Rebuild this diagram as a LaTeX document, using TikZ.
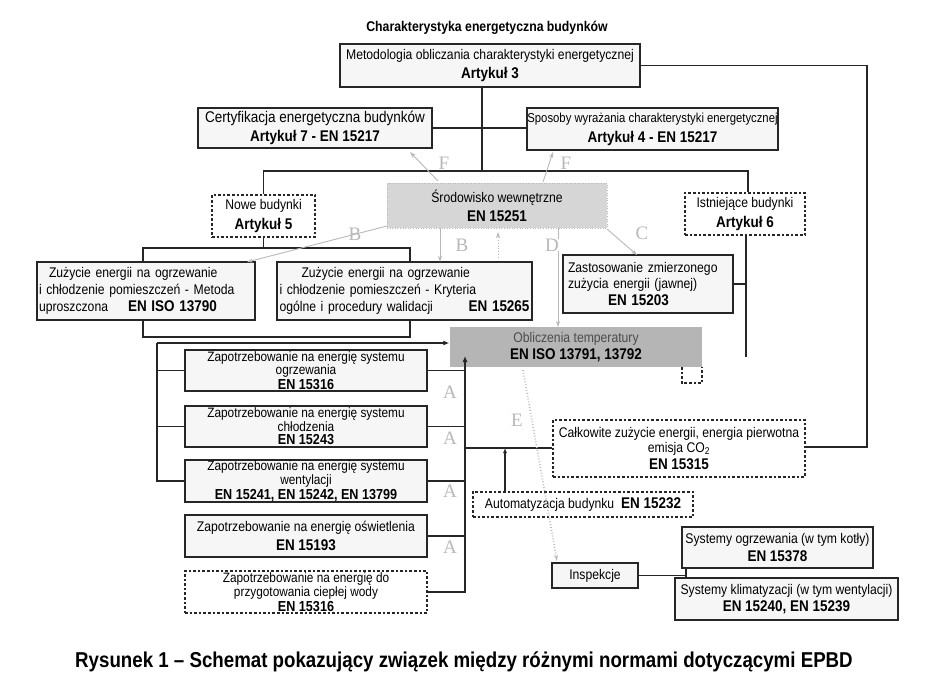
\documentclass[tikz,border=0pt]{standalone}
\usepackage{fontspec}
\setmainfont{Liberation Sans}[FakeStretch=0.87]
\newfontfamily\labfont{Liberation Serif}
\usetikzlibrary{arrows.meta}
\newcommand\nf{\fontsize{14}{13}\selectfont}
\newcommand\bfc{\fontsize{15.5}{15}\selectfont\bfseries}
\newcommand\bfz{\fontsize{14.5}{14}\selectfont\bfseries}
\begin{document}
\begin{tikzpicture}[x=1pt,y=-1pt,
 box/.style={draw=black!85, line width=1.4pt, fill=gray!7, inner sep=0pt, align=center, font=\nf},
 dbox/.style={box, fill=white, dash pattern=on 2.6pt off 2pt, line width=1.3pt},
 zbox/.style={box, font=\fontsize{13.6}{12.6}\selectfont},
 ln/.style={draw=black!85, line width=1.1pt},
 garr/.style={draw=gray!55, line width=0.9pt, -{Stealth[length=6pt,width=4pt]}},
 glab/.style={text=gray!55, font=\labfont\fontsize{19}{19}\selectfont, inner sep=0pt},
]
\useasboundingbox (0,0) rectangle (945,695);
\fill[white] (0,0) rectangle (945,695);

\node[font=\fontsize{14.1}{16}\selectfont\bfseries] (title) at (487,28) {Charakterystyka energetyczna budynków};

\node[box, minimum width=300, minimum height=43] (met) at (490,65.5)
  {Metodologia obliczania charakterystyki energetycznej\\[4pt]{\bfc Artykuł 3}};
\node[box, minimum width=234, minimum height=40, font=\fontsize{15.5}{14}\selectfont] (cert) at (315,128)
  {Certyfikacja energetyczna budynków\\[3pt]{\bfc Artykuł 7 - EN 15217}};
\node[box, minimum width=251, minimum height=42, font=\fontsize{13}{13}\selectfont] (spos) at (652.5,129)
  {Sposoby wyrażania charakterystyki energetycznej\\[5pt]{\bfc Artykuł 4 - EN 15217}};
\node[dbox, minimum width=103, minimum height=42] (nowe) at (263.5,216)
  {Nowe budynki\\[4pt]{\bfc Artykuł 5}};
\node[box, draw=gray!55, line width=0.6pt, dotted, fill=gray!32, minimum width=220, minimum height=45] (srod) at (497,205.5)
  {Środowisko wewnętrzne\\[4pt]{\bfc EN 15251}};
\node[dbox, minimum width=120, minimum height=42] (ist) at (745,214)
  {Istniejące budynki\\[4pt]{\bfc Artykuł 6}};

\node[box, minimum width=218, minimum height=58, align=left, text width=214] (zuz1) at (146,291)
  {\hspace*{10pt}Zużycie energii na ogrzewanie\\[2.5pt]i chłodzenie pomieszczeń - Metoda\\[2.5pt]uproszczona\hspace{20pt}{\bfc EN ISO 13790}};
\node[box, minimum width=255, minimum height=58, align=left, text width=250] (zuz2) at (404.5,291)
  {\hspace*{22pt}Zużycie energii na ogrzewanie\\[2.5pt]i chłodzenie pomieszczeń - Kryteria\\[2.5pt]ogólne i procedury walidacji\hfill{\bfc EN 15265}};
\node[box, minimum width=170, minimum height=58, align=left, text width=160] (zast) at (648,284)
  {Zastosowanie zmierzonego\\[1.5pt]zużycia energii (jawnej)\\[2pt]\hspace*{40pt}{\bfc EN 15203}};

\node[box, draw=none, fill=gray!58, minimum width=252, minimum height=40] (obl) at (576,347)
  {\textcolor{black!70}{Obliczenia temperatury}\\[3pt]{\bfc EN ISO 13791, 13792}};

\node[zbox, minimum width=242, minimum height=41] (zap1) at (306,370.5)
  {Zapotrzebowanie na energię systemu\\ogrzewania\\[1pt]{\bfz EN 15316}};
\node[zbox, minimum width=242, minimum height=41] (zap2) at (306,426.5)
  {Zapotrzebowanie na energię systemu\\chłodzenia\\[1pt]{\bfz EN 15243}};
\node[zbox, minimum width=242, minimum height=42] (zap3) at (306,481)
  {Zapotrzebowanie na energię systemu\\wentylacji\\[1pt]{\bfz EN 15241, EN 15242, EN 13799}};
\node[box, minimum width=242, minimum height=42] (zap4) at (306,536)
  {Zapotrzebowanie na energię oświetlenia\\[5pt]{\bfc EN 15193}};
\node[zbox, dash pattern=on 2.6pt off 2pt, line width=1.3pt, fill=white, minimum width=242, minimum height=42] (zap5) at (306,592)
  {Zapotrzebowanie na energię do\\przygotowania ciepłej wody\\[1pt]{\bfz EN 15316}};

\node[dbox, minimum width=252, minimum height=57] (calk) at (679,448.5)
  {Całkowite zużycie energii, energia pierwotna\\[1pt]emisja CO\textsubscript{2}\\[3pt]{\bfc EN 15315}};
\node[dbox, minimum width=220, minimum height=25] (auto) at (583,504.5)
  {Automatyzacja budynku \ {\bfc EN 15232}};
\node[box, minimum width=86, minimum height=25] (insp) at (595,575.5) {Inspekcje};
\node[box, minimum width=191, minimum height=41] (sogrz) at (777.5,547.5)
  {Systemy ogrzewania (w tym kotły)\\[3pt]{\bfc EN 15378}};
\node[box, minimum width=223, minimum height=42] (sklim) at (786.5,599)
  {Systemy klimatyzacji (w tym wentylacji)\\[3pt]{\bfc EN 15240, EN 15239}};

\node[font=\fontsize{21.5}{24}\selectfont\bfseries] (cap) at (464,662)
  {Rysunek 1 – Schemat pokazujący związek między różnymi normami dotyczącymi EPBD};

% black connectors
\draw[ln] (met.south -| 482,0) -- (482,171);
\draw[ln] (cert.east) -- (cert.east -| spos.west);
\draw[ln] (nowe.north) |- (748,171) -- (ist.north -| 748,0);
\draw[ln] (nowe.south) -- (nowe.south |- 0,248);
\draw[ln] (zuz1.north -| 143,0) |- (410,248) -- (zuz2.north -| 410,0);
\draw[ln] (zuz1.south -| 143,0) |- (410,337) -- (zuz2.south -| 410,0);
\draw[ln,-{Latex[length=6pt,width=5pt]}] (157,343) -- (obl.west |- 0,343);
\draw[ln] (157,343) |- (zap3.west);
\draw[ln] (zap1.west -| 157,0) -- (zap1.west);
\draw[ln] (zap2.west -| 157,0) -- (zap2.west);
\draw[ln,-{Latex[length=6pt,width=5pt]}] (zap5.east) -| (465,356);
\draw[ln] (zap1.east) -- (zap1.east -| 465,0);
\draw[ln] (zap2.east) -- (zap2.east -| 465,0);
\draw[ln] (zap3.east) -- (zap3.east -| 465,0);
\draw[ln] (zap4.east) -- (zap4.east -| 465,0);
\draw[ln] (465,448) -- (calk.west |- 0,448);
\draw[ln,-{Latex[length=5pt,width=4pt]}] (auto.north -| 505,0) -- (505,448);
\draw[ln] (ist.south -| 746,0) -- (746,357);
\draw[ln] (zast.east) -- (zast.east -| 746,0);
\draw[ln] (met.east) -| (867,447) -- (calk.east |- 0,447);
\draw[ln] (insp.east) -- (insp.east -| 686,0);
\draw[ln] (sogrz.south -| 686,0) -- (sklim.north -| 686,0);
\draw[ln, dash pattern=on 2.6pt off 2pt] (682,367) -- (682,383) -- (702,383) -- (702,367);

% grey annotations
\draw[garr] (438,181) -- (410,152);
\node[glab] (lf1) at (444,163) {F};
\draw[garr] (543,182) -- (553,152);
\node[glab] (lf2) at (566,163) {F};
\draw[garr] (387,226) -- (247,262);
\node[glab] (lb1) at (355,234) {B};
\draw[garr] (440,228) -- (440,262);
\node[glab] (lb2) at (462,245) {B};
\draw[garr, dotted] (498,258) -- (498,232);
\draw[garr] (558,228) -- (558,327);
\node[glab, fill=white] (ld) at (552,245) {D};
\draw[garr] (607,229) -- (637,255);
\node[glab] (lc) at (642,233) {C};
\draw[garr, dotted, line width=1.6pt] (523,370) -- (557,561);
\node[glab] (le) at (517,420) {E};
\node[glab] (la1) at (450,392) {A};
\node[glab] (la2) at (450,438) {A};
\node[glab] (la3) at (450,491) {A};
\node[glab] (la4) at (450,547) {A};
\end{tikzpicture}
\end{document}
